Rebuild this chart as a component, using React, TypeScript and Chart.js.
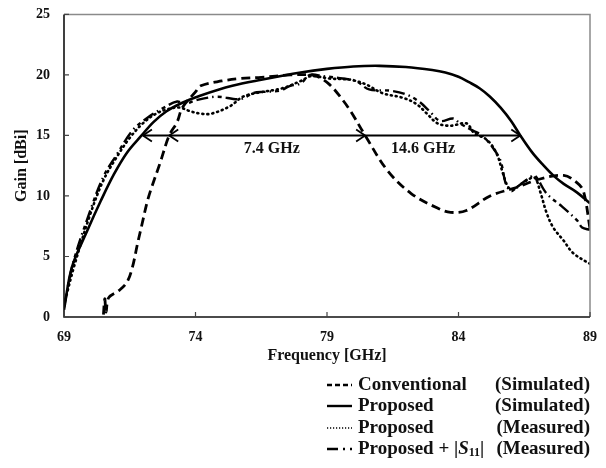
import React, { useEffect, useRef } from "react";
import { Chart, registerables } from "chart.js";

Chart.register(...registerables);

// ---- data ----
const convF = [70.5, 70.55, 70.6, 70.7, 71.1, 71.4, 71.6, 71.8, 71.97, 72.15, 72.3, 72.65, 73.0, 73.3, 73.5, 74.0, 74.2, 75.0, 75.7, 76.5, 77.6, 78.4, 78.7, 79.1, 79.5, 79.9, 80.45, 81.3, 82.2, 83.2, 83.7, 84.3, 85.2, 86.2, 87.1, 88.0, 88.5, 88.75, 89.0];
const convG = [0.2, 1.5, 0.4, 1.6, 2.2, 2.9, 4.1, 6.1, 7.7, 9.4, 10.5, 12.7, 15.0, 16.1, 17.3, 18.6, 19.1, 19.5, 19.7, 19.8, 20.0, 20.0, 19.8, 19.2, 18.2, 17.0, 15.0, 12.1, 10.2, 9.0, 8.65, 8.8, 10.0, 10.7, 11.4, 11.7, 11.1, 10.4, 7.3];

const propSimF = [69.0, 69.3, 69.9, 70.4, 70.9, 71.4, 71.95, 72.4, 72.9, 73.5, 74.2, 75.4, 76.5, 78.0, 79.0, 80.0, 81.0, 82.0, 83.0, 83.5, 84.0, 84.4, 84.8, 85.2, 85.6, 86.0, 86.35, 86.8, 87.2, 87.6, 88.0, 88.5, 89.0];
const propSimG = [0.6, 4.1, 7.2, 9.6, 11.8, 13.6, 15.0, 16.1, 17.0, 17.7, 18.3, 19.1, 19.6, 20.2, 20.5, 20.7, 20.75, 20.65, 20.4, 20.2, 19.85, 19.4, 18.9, 18.2, 17.3, 16.2, 15.0, 13.6, 12.6, 11.7, 11.0, 10.3, 9.4];

const propMeasF = [69.0, 69.4, 70.0, 70.5, 71.0, 71.5, 72.0, 72.5, 73.0, 73.4, 73.8, 74.2, 74.6, 75.3, 75.8, 76.3, 77.3, 78.0, 78.4, 79.1, 79.9, 80.5, 81.1, 81.9, 82.4, 82.8, 83.2, 83.7, 84.3, 84.6, 85.1, 85.45, 85.7, 85.9, 86.1, 86.6, 86.9, 87.1, 87.35, 87.6, 88.0, 88.35, 88.9, 89.0];
const propMeasG = [1.0, 4.3, 8.5, 11.3, 13.2, 14.8, 16.0, 16.8, 17.2, 17.3, 17.0, 16.8, 16.8, 17.4, 18.2, 18.5, 18.9, 19.5, 19.9, 19.7, 19.6, 19.2, 18.5, 18.1, 17.6, 16.8, 16.0, 15.8, 16.0, 15.2, 14.6, 13.5, 11.8, 10.7, 10.6, 11.3, 11.5, 10.4, 8.6, 7.4, 6.3, 5.3, 4.5, 4.4];

const propS11F = [69.0, 69.35, 70.0, 70.5, 71.0, 71.6, 72.2, 72.8, 73.3, 73.6, 74.0, 74.8, 75.7, 76.2, 76.6, 77.2, 77.6, 78.0, 78.35, 78.85, 79.6, 80.1, 80.6, 81.4, 82.0, 82.5, 82.9, 83.3, 83.8, 84.05, 84.55, 84.9, 85.3, 85.6, 85.8, 86.0, 86.2, 86.7, 86.9, 87.35, 87.95, 88.5, 88.7, 89.0];
const propS11G = [0.8, 4.5, 8.8, 11.6, 13.4, 15.4, 16.5, 17.3, 17.8, 17.6, 17.9, 18.2, 18.0, 18.5, 18.6, 18.7, 19.1, 19.3, 20.0, 19.9, 19.7, 19.5, 18.8, 18.7, 18.4, 17.8, 17.0, 16.2, 16.4, 16.0, 15.4, 15.0, 14.0, 12.9, 11.0, 10.4, 10.7, 11.5, 11.7, 10.2, 9.1, 8.0, 7.4, 7.2];

const xTicks = [69, 74, 79, 84, 89];
const yTicks = [0, 5, 10, 15, 20, 25];

const legendNames = ["Conventional", "Proposed", "Proposed", "Proposed + |S11|"];
const legendKinds = ["(Simulated)", "(Simulated)", "(Measured)", "(Measured)"];

// bandwidth annotation
const arrowGain = 15;
const arrowStart = 72.0;
const arrowEnd = 86.35;
const arrowLeftHeads = [72.0, 73.0];
const arrowRightHeads = [80.45, 86.35];
const bwLabels = ["7.4 GHz", "14.6 GHz"];
const bwLabelX = [76.9, 82.65];
const bwLabelY = 13.9;

const FONT = "'Liberation Serif', 'Times New Roman', serif";

const dashes: number[][] = [[9, 5], [], [1, 4], [12, 4, 1.5, 4, 4, 4]];
const widths = [2.8, 2.6, 2.6, 2.4];

const overlay = {
  id: "overlay",
  afterDraw(chart: any) {
    const ctx = chart.ctx as CanvasRenderingContext2D;
    const xs = chart.scales.x;
    const ys = chart.scales.y;
    const a = chart.chartArea;
    ctx.save();
    // frame
    ctx.strokeStyle = "#8a8a8a";
    ctx.lineWidth = 1.5;
    ctx.beginPath();
    ctx.moveTo(a.left, a.top);
    ctx.lineTo(a.right, a.top);
    ctx.lineTo(a.right, a.bottom);
    ctx.stroke();
    ctx.strokeStyle = "#111";
    ctx.lineWidth = 1.6;
    ctx.beginPath();
    ctx.moveTo(a.left, a.top);
    ctx.lineTo(a.left, a.bottom);
    ctx.lineTo(a.right, a.bottom);
    ctx.stroke();
    // inward ticks
    ctx.lineWidth = 1.2;
    ctx.strokeStyle = "#444";
    ctx.beginPath();
    xTicks.forEach((t) => {
      const px = xs.getPixelForValue(t);
      ctx.moveTo(px, a.bottom);
      ctx.lineTo(px, a.bottom - 5);
    });
    yTicks.forEach((t) => {
      const py = ys.getPixelForValue(t);
      ctx.moveTo(a.left, py);
      ctx.lineTo(a.left + 5, py);
    });
    ctx.stroke();

    // arrows
    const ay = ys.getPixelForValue(arrowGain);
    ctx.strokeStyle = "#000";
    ctx.lineWidth = 2;
    ctx.setLineDash([]);
    ctx.beginPath();
    ctx.moveTo(xs.getPixelForValue(arrowStart), ay);
    ctx.lineTo(xs.getPixelForValue(arrowEnd), ay);
    ctx.stroke();
    ctx.lineWidth = 1.8;
    ctx.beginPath();
    arrowLeftHeads.forEach((f) => {
      const px = xs.getPixelForValue(f);
      ctx.moveTo(px + 9, ay - 6);
      ctx.lineTo(px, ay);
      ctx.lineTo(px + 9, ay + 6);
    });
    arrowRightHeads.forEach((f) => {
      const px = xs.getPixelForValue(f);
      ctx.moveTo(px - 9, ay - 6);
      ctx.lineTo(px, ay);
      ctx.lineTo(px - 9, ay + 6);
    });
    ctx.stroke();
    ctx.fillStyle = "#111";
    ctx.font = `bold 16px ${FONT}`;
    ctx.textAlign = "center";
    ctx.textBaseline = "middle";
    bwLabels.forEach((t, i) => {
      ctx.fillText(t, xs.getPixelForValue(bwLabelX[i]), ys.getPixelForValue(bwLabelY));
    });

    // axis titles
    ctx.font = `bold 16px ${FONT}`;
    ctx.fillText("Frequency [GHz]", (a.left + a.right) / 2, 356);
    ctx.save();
    ctx.translate(22, (a.top + a.bottom) / 2);
    ctx.rotate(-Math.PI / 2);
    ctx.fillText("Gain [dBi]", 0, 0);
    ctx.restore();

    // legend
    const rowY = [385, 406, 428, 449];
    const fs = 19;
    legendNames.forEach((name, i) => {
      const y = rowY[i];
      ctx.strokeStyle = "#000";
      ctx.lineWidth = i === 2 ? 1.6 : 2.4;
      ctx.setLineDash(i === 2 ? [1.2, 1.8] : i === 3 ? [11, 5, 2, 5, 4, 40] : dashes[i].length ? [5, 3] : []);
      ctx.beginPath();
      ctx.moveTo(327, y);
      ctx.lineTo(352, y);
      ctx.stroke();
      ctx.setLineDash([]);
      ctx.textAlign = "left";
      ctx.textBaseline = "middle";
      ctx.font = `bold ${fs}px ${FONT}`;
      const m = name.match(/^(.*\|)S(\d+)(\|)$/);
      let x = 358;
      if (m) {
        ctx.fillText(m[1], x, y);
        x += ctx.measureText(m[1]).width;
        ctx.font = `italic bold ${fs}px ${FONT}`;
        ctx.fillText("S", x, y);
        x += ctx.measureText("S").width;
        ctx.font = `bold ${fs - 7}px ${FONT}`;
        ctx.fillText(m[2], x, y + 4);
        x += ctx.measureText(m[2]).width;
        ctx.font = `bold ${fs}px ${FONT}`;
        ctx.fillText(m[3], x, y);
      } else {
        ctx.fillText(name, x, y);
      }
      ctx.textAlign = "right";
      ctx.fillText(legendKinds[i], 590, y);
    });
    ctx.restore();
  },
};

export default function App() {
  const ref = useRef<HTMLCanvasElement | null>(null);
  useEffect(() => {
    if (!ref.current) return;
    const series = [
      [convF, convG],
      [propSimF, propSimG],
      [propMeasF, propMeasG],
      [propS11F, propS11G],
    ];
    const chart = new Chart(ref.current, {
      type: "line",
      data: {
        datasets: series.map(([f, g], i) => ({
          label: legendNames[i] + " " + legendKinds[i],
          data: f.map((v, k) => ({ x: v, y: g[k] })),
          borderColor: "#000",
          backgroundColor: "#000",
          borderWidth: widths[i],
          borderDash: dashes[i],
          borderCapStyle: i === 2 ? "round" : "butt",
          pointRadius: 0,
          tension: 0.35,
          fill: false,
        })),
      },
      options: {
        responsive: false,
        animation: false,
        layout: { padding: { left: 0, top: 13, right: 16, bottom: 0 } },
        plugins: { legend: { display: false }, tooltip: { enabled: false } },
        scales: {
          x: {
            type: "linear",
            min: 69,
            max: 89,
            afterBuildTicks: (s: any) => {
              s.ticks = xTicks.map((v) => ({ value: v }));
            },
            ticks: { color: "#111", font: { family: FONT, size: 14, weight: "bold" }, padding: 4, maxRotation: 0 },
            grid: { display: false },
            border: { display: false },
            afterFit: (s: any) => {
              s.height = 151;
            },
          },
          y: {
            min: 0,
            max: 25,
            afterBuildTicks: (s: any) => {
              s.ticks = yTicks.map((v) => ({ value: v }));
            },
            ticks: { color: "#111", font: { family: FONT, size: 14, weight: "bold" }, padding: 6 },
            grid: { display: false },
            border: { display: false },
            afterFit: (s: any) => {
              s.width = 64;
            },
          },
        },
      },
      plugins: [overlay],
    });
    return () => chart.destroy();
  }, []);
  return (
    <div style={{ position: "fixed", left: 0, top: 0, width: 606, height: 468, background: "#fff" }}>
      <canvas ref={ref} width={606} height={468} style={{ width: 606, height: 468 }} />
    </div>
  );
}
